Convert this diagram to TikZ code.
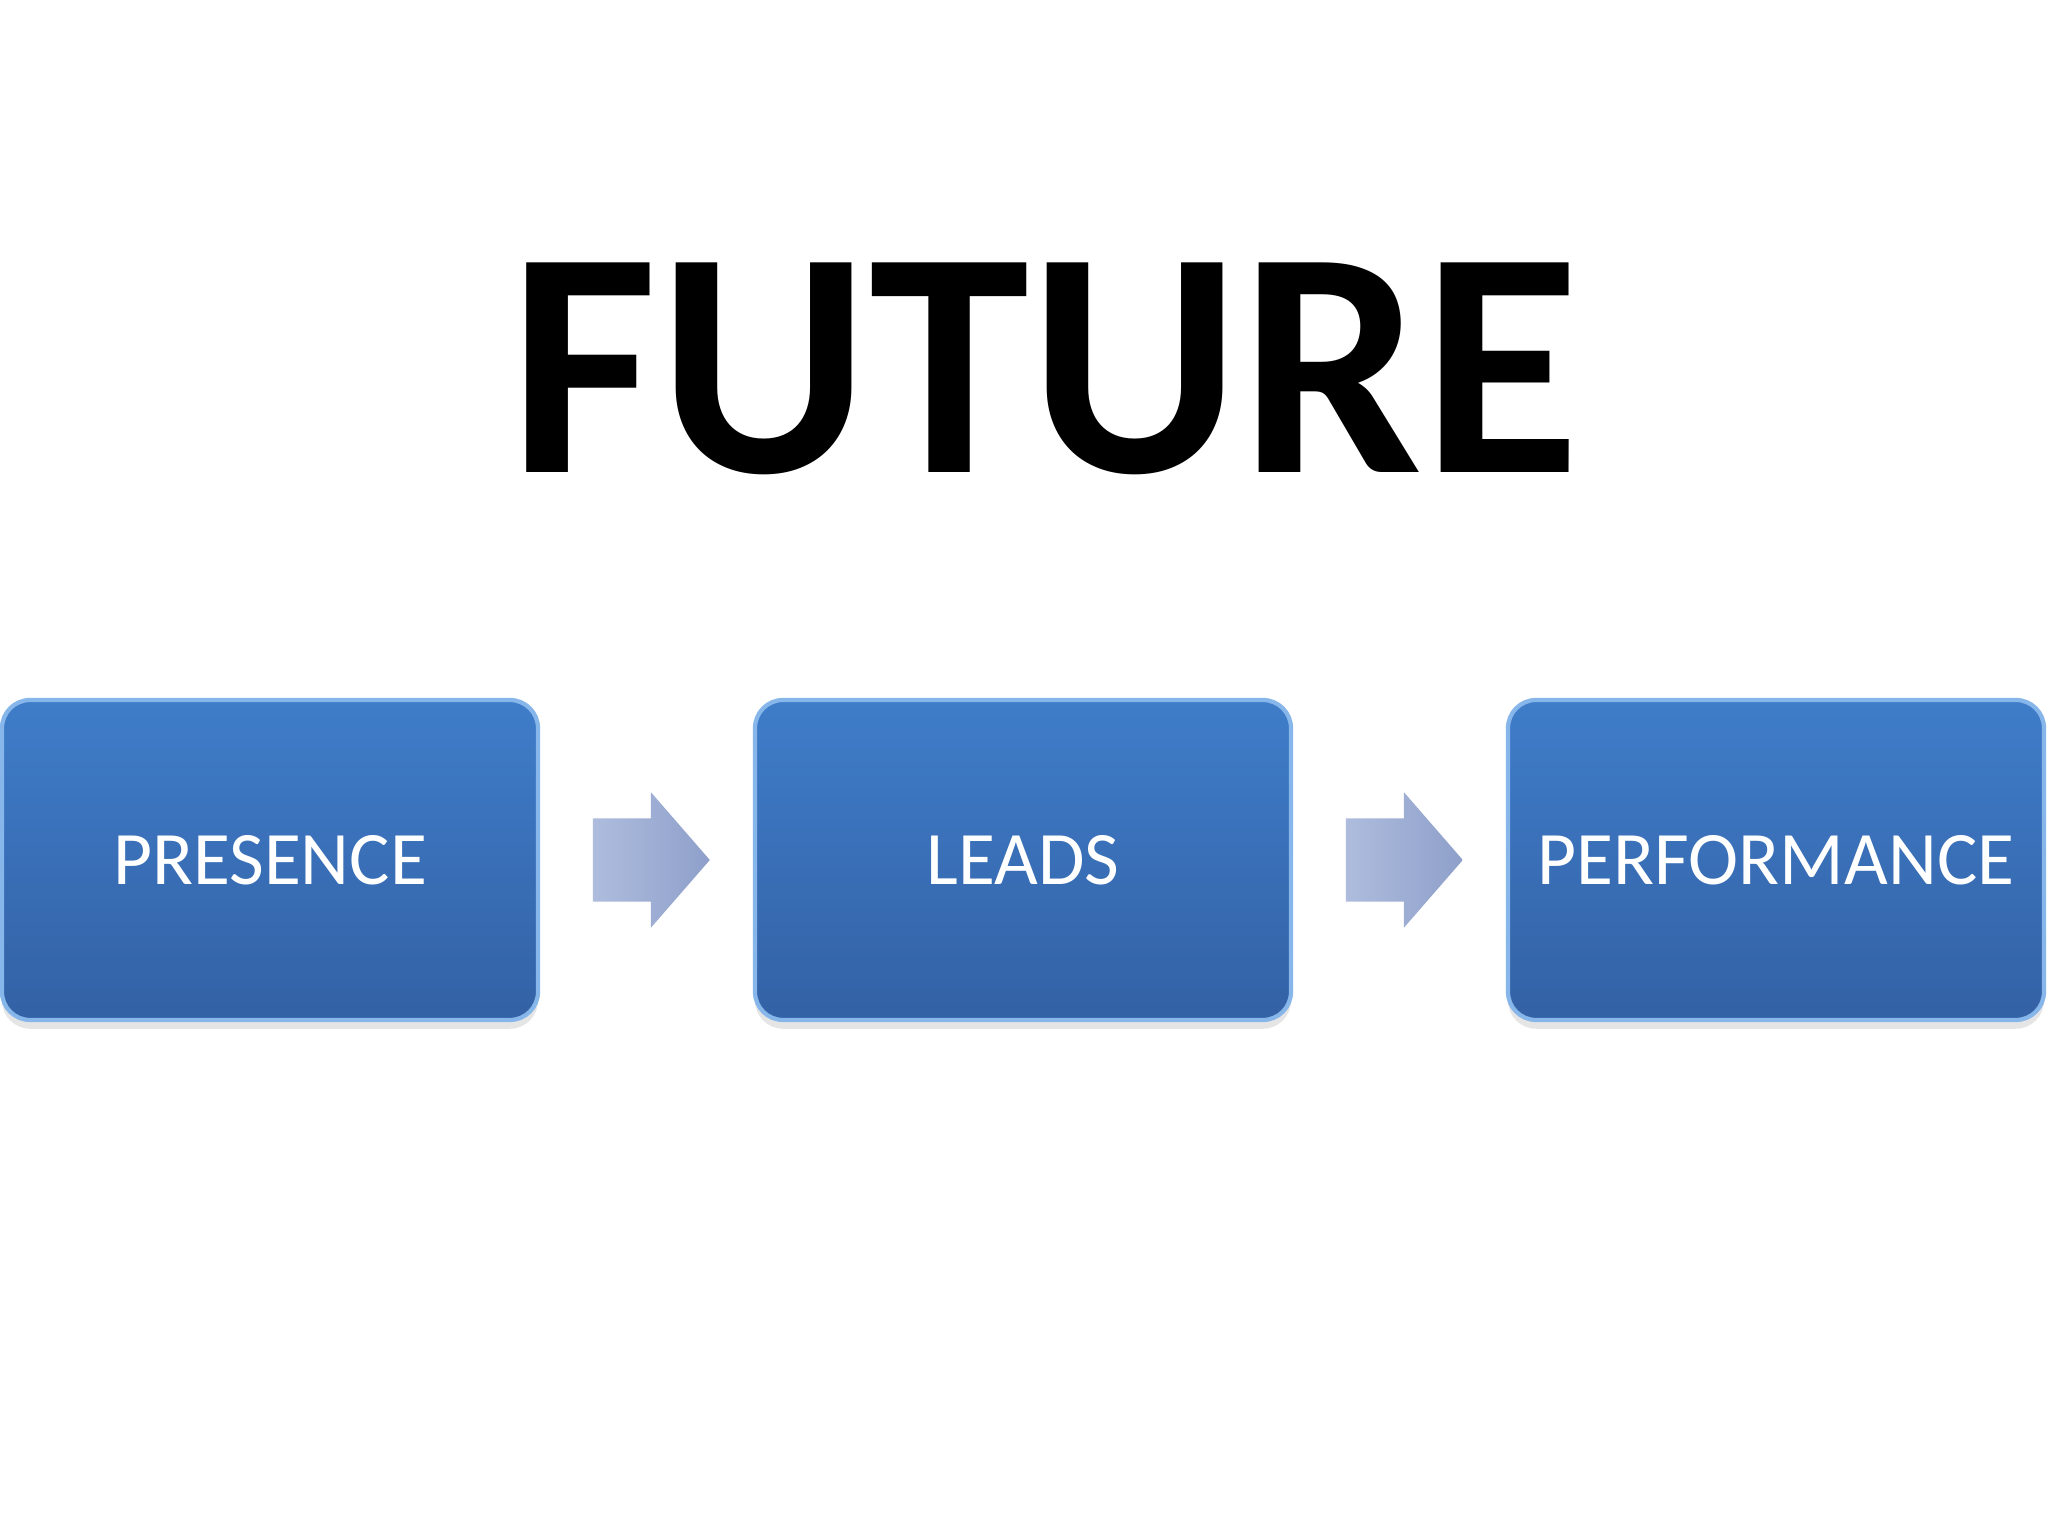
\documentclass[tikz,border=0pt]{standalone}
\usepackage{fontspec}
\setmainfont{Carlito}
\usetikzlibrary{shapes.arrows,shadows,calc}
\definecolor{stagetop}{HTML}{3F7DC9}
\definecolor{stagebot}{HTML}{3361A5}
\definecolor{stageedge}{HTML}{86B6EA}
\definecolor{arrowleft}{HTML}{AEBDDD}
\definecolor{arrowright}{HTML}{8E9FCA}
\begin{document}
\begin{tikzpicture}[
  stagebox/.style={rectangle,rounded corners=8pt,minimum width=5.36cm,minimum height=3.2cm,
    top color=stagetop,bottom color=stagebot,draw=stageedge,line width=1.2pt,
    text=white,font=\fontsize{21.5}{26}\selectfont,
    drop shadow={shadow xshift=0pt,shadow yshift=-2.5pt,opacity=0.2}},
  flowarrow/.style={single arrow,single arrow head extend=0.26cm,single arrow tip angle=98,
    minimum height=1.17cm,inner xsep=0pt,inner ysep=0.41cm,anchor=tail,
    left color=arrowleft,right color=arrowright,draw=none}]
  \useasboundingbox[fill=white] (0,0) rectangle (20.48,15.36);
  % Title
  \node[anchor=base,font=\bfseries\fontsize{92}{100}\selectfont] (title) at (10.45,10.63) {FUTURE};
  % Stages
  \node[stagebox] (presence) at (2.70,6.76) {PRESENCE};
  \node[stagebox] (leads) at (10.23,6.76) {LEADS};
  \node[stagebox] (perf) at (17.76,6.76) {PERFORMANCE};
  % Arrows between stages
  \node[flowarrow] (arr1) at ($(presence.east)+(0.52,0)$) {};
  \node[flowarrow] (arr2) at ($(leads.east)+(0.52,0)$) {};
\end{tikzpicture}
\end{document}
